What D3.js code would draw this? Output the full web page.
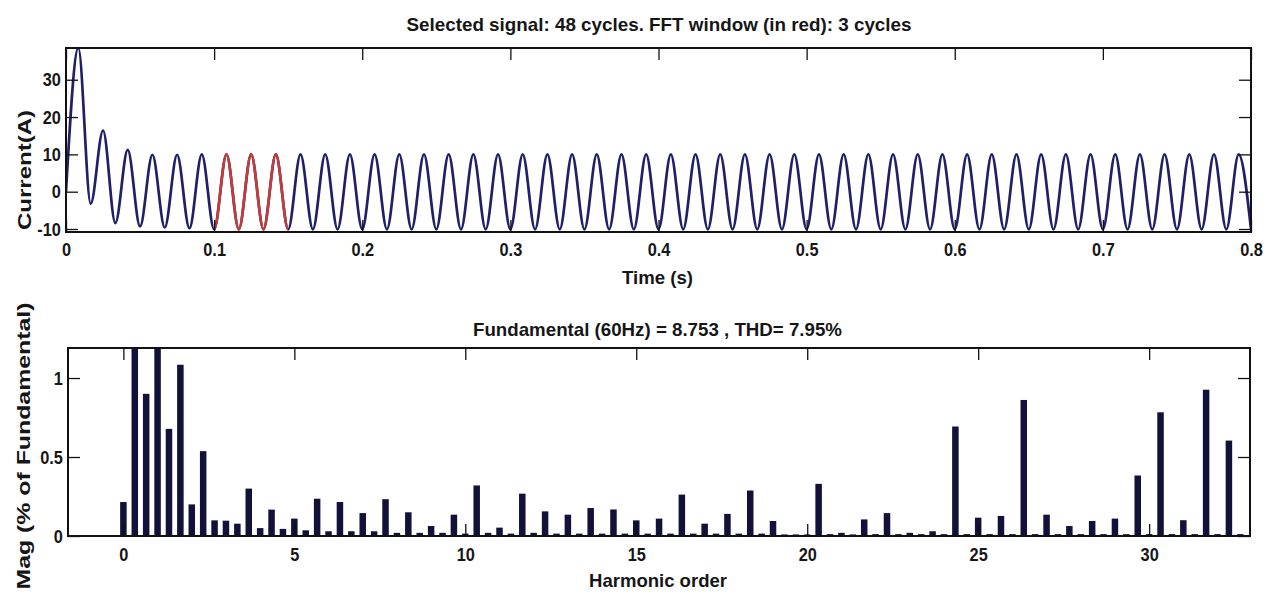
<!DOCTYPE html>
<html>
<head>
<meta charset="utf-8">
<script src="https://cdn.jsdelivr.net/npm/d3@7"></script>
<style>
  html, body { margin: 0; padding: 0; background: #ffffff; }
  svg { display: block; font-family: "Liberation Sans", Arial, Helvetica, sans-serif; font-weight: bold; }
</style>
</head>
<body>
<svg id="chart" width="1275" height="594"></svg>
<script>
// ---- Selected current signal: successive peak / trough values (A), one per half cycle of 60 Hz
const HALF_CYCLE = 1 / 120; // s
const currentExtrema = [
  0, 38.5, -3.2, 16.4, -8.4, 11.2, -9.3, 9.9, -9.6, 9.9,
  -9.8, 10.0, -10.1, 10.0, -10.1, 10.0, -10.1, 10.0, -10.1, 10.0,
  -10.1, 10.0, -10.1, 10.0, -10.1, 10.0, -10.1, 10.0, -10.1, 10.0,
  -10.1, 10.0, -10.1, 10.0, -10.1, 10.0, -10.1, 10.0, -10.1, 10.0,
  -10.1, 10.0, -10.1, 10.0, -10.1, 10.0, -10.1, 10.0, -10.1, 10.0,
  -10.1, 10.0, -10.1, 10.0, -10.1, 10.0, -10.1, 10.0, -10.1, 10.0,
  -10.1, 10.0, -10.1, 10.0, -10.1, 10.0, -10.1, 10.0, -10.1, 10.0,
  -10.1, 10.0, -10.1, 10.0, -10.1, 10.0, -10.1, 10.0, -10.1, 10.0,
  -10.1, 10.0, -10.1, 10.0, -10.1, 10.0, -10.1, 10.0, -10.1, 10.0,
  -10.1, 10.0, -10.1, 10.0, -10.1, 10.0, -10.1
];
const fftWindow = [0.1, 0.15];           // s, 3 cycles shown in red
const timeTicks = [0, 0.1, 0.2, 0.3, 0.4, 0.5, 0.6, 0.7, 0.8];
const currentTicks = [-10, 0, 10, 20, 30];
const timeDomain = [0, 0.8];
const currentDomain = [-10.8, 38.5];

// ---- FFT of the 3-cycle window: 20 Hz bins = 1/3 harmonic order, % of fundamental
const HARMONIC_STEP = 1 / 3;
const harmonicMag = [
  0.215, 1.9, 0.90, 100, 0.678, 1.084, 0.20, 0.537, 0.099, 0.097,
  0.078, 0.30, 0.05, 0.167, 0.045, 0.11, 0.036, 0.236, 0.03, 0.215,
  0.03, 0.145, 0.03, 0.233, 0.02, 0.15, 0.02, 0.063, 0.02, 0.135,
  0.015, 0.32, 0.02, 0.053, 0.015, 0.268, 0.02, 0.156, 0.015, 0.135,
  0.015, 0.177, 0.015, 0.168, 0.015, 0.099, 0.015, 0.11, 0.015, 0.262,
  0.015, 0.078, 0.015, 0.14, 0.015, 0.288, 0.015, 0.095, 0.01, 0.01,
  0.01, 0.33, 0.012, 0.02, 0.01, 0.105, 0.012, 0.145, 0.012, 0.02,
  0.012, 0.03, 0.012, 0.693, 0.012, 0.116, 0.012, 0.127, 0.012, 0.861,
  0.012, 0.135, 0.012, 0.063, 0.012, 0.095, 0.012, 0.11, 0.012, 0.383,
  0.012, 0.783, 0.012, 0.10, 0.012, 0.926, 0.012, 0.604, 0.012
];
const harmonicTicks = [0, 5, 10, 15, 20, 25, 30];
const magTicks = [0, 0.5, 1];
const harmonicDomain = [-1.62, 32.95];
const magDomain = [0, 1.19];

// ---- texts
const waveTitle = "Selected signal: 48 cycles. FFT window (in red): 3 cycles";
const waveXLabel = "Time (s)";
const waveYLabel = "Current(A)";
const specTitle = "Fundamental (60Hz) = 8.753 , THD= 7.95%";
const specXLabel = "Harmonic order";
const specYLabel = "Mag (% of Fundamental)";

// ---- layout
const svg = d3.select("#chart");
const TEXT = "#161616";
const TICK_LEN = 12;

const waveBox = { left: 66, right: 1251, top: 48, bottom: 232 };
const specBox = { left: 68, right: 1250, top: 348, bottom: 536 };

svg.append("rect").attr("width", 1275).attr("height", 594).attr("fill", "#ffffff");

const defs = svg.append("defs");
function clipFor(id, x0, x1, y0, y1) {
  defs.append("clipPath").attr("id", id)
    .append("rect").attr("x", x0).attr("y", y0).attr("width", x1 - x0).attr("height", y1 - y0);
  return `url(#${id})`;
}

const fmt = d => String(d);

// Axes with inward ticks on all four sides (box style); labels are narrow and tall
function boxAxes(box, xs, ys, xTicks, yTicks, xPad) {
  const g = svg.append("g");
  const style = sel => {
    sel.attr("font-family", null).attr("font-size", 19).attr("color", TEXT);
    sel.select(".domain").remove();
    sel.selectAll(".tick line").attr("stroke", "#111").attr("stroke-width", 1.3);
    sel.selectAll(".tick text").attr("transform", "scale(0.86,1)");
  };
  g.append("g").attr("transform", `translate(0,${box.bottom})`)
    .call(d3.axisBottom(xs).tickValues(xTicks).tickSize(-TICK_LEN).tickPadding(xPad).tickFormat(fmt)).call(style);
  g.append("g").attr("transform", `translate(0,${box.top})`)
    .call(d3.axisTop(xs).tickValues(xTicks).tickSize(-TICK_LEN).tickFormat("")).call(style);
  g.append("g").attr("transform", `translate(${box.left},0)`)
    .call(d3.axisLeft(ys).tickValues(yTicks).tickSize(-TICK_LEN).tickPadding(6).tickFormat(fmt)).call(style);
  g.append("g").attr("transform", `translate(${box.right},0)`)
    .call(d3.axisRight(ys).tickValues(yTicks).tickSize(-TICK_LEN).tickFormat("")).call(style);
  g.append("rect")
    .attr("x", box.left).attr("y", box.top)
    .attr("width", box.right - box.left).attr("height", box.bottom - box.top)
    .attr("fill", "none").attr("stroke", "#111").attr("stroke-width", 2);
}

function label(text, x, y, len, size, rotate) {
  const t = svg.append("text")
    .attr("text-anchor", "middle")
    .attr("font-size", size)
    .attr("fill", TEXT)
    .attr("textLength", len)
    .attr("lengthAdjust", "spacingAndGlyphs")
    .text(text);
  if (rotate) t.attr("transform", `translate(${x},${y}) rotate(-90)`);
  else t.attr("x", x).attr("y", y);
}

// ================= Current waveform =================
const xT = d3.scaleLinear().domain(timeDomain).range([waveBox.left, waveBox.right]);
const yI = d3.scaleLinear().domain(currentDomain).range([waveBox.bottom, waveBox.top]);

const waveLine = d3.line()
  .x((d, i) => xT(i * HALF_CYCLE))
  .y(d => yI(d))
  .curve(d3.curveMonotoneX);

const waveClip = clipFor("waveClip", waveBox.left, waveBox.right, waveBox.top - 2, waveBox.bottom + 2);
const fftClip = clipFor("fftClip", xT(fftWindow[0]), xT(fftWindow[1]), waveBox.top - 2, waveBox.bottom + 2);

svg.append("path")
  .datum(currentExtrema)
  .attr("d", waveLine)
  .attr("clip-path", waveClip)
  .attr("fill", "none")
  .attr("stroke", "#202068")
  .attr("stroke-width", 2.7)
  .attr("stroke-linejoin", "round");

svg.append("path")
  .datum(currentExtrema)
  .attr("d", waveLine)
  .attr("clip-path", fftClip)
  .attr("fill", "none")
  .attr("stroke", "#c43c3a")
  .attr("stroke-width", 2.7)
  .attr("stroke-linejoin", "round");

boxAxes(waveBox, xT, yI, timeTicks, currentTicks, 11);

label(waveTitle, 659, 31, 505, 19, false);
label(waveXLabel, 657.5, 284, 71, 19, false);
label(waveYLabel, 31, 170, 120, 19, true);

// ================= Harmonic spectrum =================
const xH = d3.scaleLinear().domain(harmonicDomain).range([specBox.left, specBox.right]);
const yM = d3.scaleLinear().domain(magDomain).range([specBox.bottom, specBox.top]);
const barW = xH(0.19) - xH(0);

const specClip = clipFor("specClip", specBox.left, specBox.right, specBox.top, specBox.bottom);

svg.append("g")
  .attr("clip-path", specClip)
  .selectAll("rect")
  .data(harmonicMag)
  .join("rect")
  .attr("x", (d, i) => xH(i * HARMONIC_STEP) - barW / 2)
  .attr("width", barW)
  .attr("y", d => yM(d))
  .attr("height", d => yM(0) - yM(d))
  .attr("fill", "#11113a");

boxAxes(specBox, xH, yM, harmonicTicks, magTicks, 12);

label(specTitle, 657.5, 336, 369, 19, false);
label(specXLabel, 658, 587, 138, 19, false);
label(specYLabel, 30, 446, 287, 19, true);
</script>
</body>
</html>
